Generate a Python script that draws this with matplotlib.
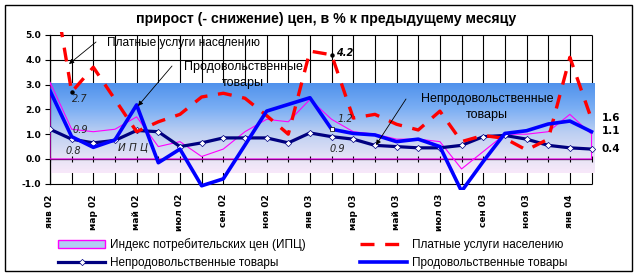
import numpy as np
import matplotlib
matplotlib.use('Agg')
import matplotlib.pyplot as plt
from matplotlib.patches import Rectangle, Patch
from matplotlib.lines import Line2D
from matplotlib.colors import LinearSegmentedColormap

# ---------------- data ----------------
months = ['янв 02', 'фев 02', 'мар 02', 'апр 02', 'май 02', 'июн 02', 'июл 02', 'авг 02',
          'сен 02', 'окт 02', 'ноя 02', 'дек 02', 'янв 03', 'фев 03', 'мар 03', 'апр 03',
          'май 03', 'июн 03', 'июл 03', 'авг 03', 'сен 03', 'окт 03', 'ноя 03', 'дек 03',
          'янв 04', 'фев 04']
tick_labels = months[::2]

cpi = [3.1, 1.2, 1.1, 1.2, 1.7, 0.5, 0.7, 0.1, 0.4, 1.1, 1.6, 1.5,
       2.4, 1.6, 1.1, 1.0, 0.8, 0.8, 0.7, -0.4, 0.3, 1.0, 1.0, 1.1,
       1.8, 1.0]
services = [7.9, 2.7, 3.7, 2.4, 1.1, 1.5, 1.8, 2.5, 2.65, 2.45, 1.75, 1.0,
            4.35, 4.2, 1.65, 1.8, 1.4, 1.17, 1.93, 0.7, 0.95, 0.83, 0.36, 0.8,
            4.1, 1.6]
nonfood = [1.2, 0.8, 0.65, 0.75, 1.15, 1.1, 0.5, 0.65, 0.85, 0.85, 0.85, 0.65,
           1.05, 0.9, 0.8, 0.55, 0.5, 0.45, 0.45, 0.55, 0.9, 0.95, 0.8, 0.55,
           0.45, 0.4]
food = [2.75, 0.9, 0.47, 0.77, 2.18, -0.15, 0.4, -1.08, -0.8, 0.56, 1.93, 2.2,
        2.47, 1.2, 1.03, 0.97, 0.7, 0.8, 0.5, -1.3, -0.1, 1.03, 1.14, 1.41,
        1.53, 1.1]

series_names = ['Индекс потребительских цен (ИПЦ)', 'Непродовольственные товары',
                'Платные услуги населению', 'Продовольственные товары']
title = 'прирост (- снижение) цен, в % к предыдущему месяцу'

# ---------------- figure ----------------
plt.rcParams['font.family'] = ['DejaVu Sans']
W, H = 639, 278
fig = plt.figure(figsize=(W / 100, H / 100), dpi=100)
ax = fig.add_axes([50 / W, 1 - 190 / H, 545 / W, 158 / H])
XMAX, YMIN, YMAX = 25.16, -1.25, 5.12
ax.set_xlim(0, XMAX)
ax.set_ylim(YMIN, YMAX)
x = np.arange(len(months))

def px(xp, yp):
    """pixel position in figure -> data coordinates"""
    return (xp - 50) / 545 * XMAX, (190 - yp) / 158 * (YMAX - YMIN) + YMIN

sans = ['Liberation Sans', 'DejaVu Sans']

# grid (behind gradient)
for v in range(-1, 6):
    ax.hlines(v, 0, len(months) - 1, color='black', lw=0.8, zorder=0.5)
ax.vlines(x, -1, 5, color='black', lw=0.8, zorder=0.5)

# gradient band
cmap = LinearSegmentedColormap.from_list('band', [
    (0.0, (248/255, 232/255, 250/255)),
    (0.15, (232/255, 228/255, 246/255)),
    (0.45, (188/255, 207/255, 242/255)),
    (0.72, (122/255, 174/255, 244/255)),
    (1.0, (80/255, 146/255, 236/255))])
grad = np.linspace(0, 1, 256).reshape(-1, 1)
ax.imshow(grad, cmap=cmap, origin='lower', aspect='auto',
          extent=[0, 25.15, -0.55, 3.05], zorder=1, interpolation='bicubic')

# axes lines
ax.hlines(0, 0, len(months) - 1, color='black', lw=0.9, zorder=2.2)
ax.vlines(x, -0.14, 0.14, color='black', lw=0.8, zorder=2.2)
for s in ['top', 'right', 'bottom']:
    ax.spines[s].set_visible(False)
ax.spines['left'].set_bounds(-1, 5)
ax.spines['left'].set_zorder(2.2)
ax.spines['left'].set_linewidth(0.9)

ax.set_yticks(range(-1, 6))
ax.set_yticklabels([f'{v:.1f}' for v in range(-1, 6)], fontsize=6.5, fontweight='bold')
ax.tick_params(axis='y', length=3.5, width=0.8, pad=3)
ax.set_xticks(x[::2])
ax.set_xticklabels(tick_labels, rotation=90, fontsize=6.5, fontweight='bold')
ax.tick_params(axis='x', length=0, pad=3)

# series
ax.fill_between(x, cpi, 0, facecolor='none', edgecolor='#ff00ff', lw=0.8, zorder=3)
ax.plot(x, nonfood, color='#000080', lw=2.3, marker='D', markersize=3.2,
        markerfacecolor='white', markeredgecolor='#000080', markeredgewidth=0.5, zorder=4)
ax.plot(x, services, color='#ff0000', lw=2.4, linestyle=(0, (4.2, 3.2)), zorder=5)
ax.plot(x, food, color='#0000ff', lw=2.6, zorder=6)
# small point markers on February values
ax.plot(x[[1, 13]], np.array(services)[[1, 13]], 'o', color='black', markersize=2.2, zorder=7)
ax.plot(x[[13]], np.array(food)[[13]], 's', markerfacecolor='white', markeredgecolor='black',
        markersize=2.5, markeredgewidth=0.5, zorder=7)

# value labels
def vlabel(xp, yp, s, **kw):
    xx, yy = px(xp, yp)
    ax.text(xx, yy, s, ha='center', va='center', fontsize=7, zorder=8, **kw)

vlabel(80, 99, '2.7', style='italic', color='#222222')
vlabel(80, 130, '0.9', style='italic', color='#222222')
vlabel(73, 151, '0.8', style='italic', color='#222222')
vlabel(345, 53, '4.2', style='italic', fontweight='bold', color='black')
vlabel(345, 119, '1.2', style='italic', color='#222222')
vlabel(337, 149, '0.9', style='italic', color='#222222')
for yp, s in [(118, '1.6'), (131, '1.1'), (149.5, '0.4')]:
    xx, yy = px(611, yp)
    ax.text(xx, yy, s, ha='center', va='center', fontsize=7.5, fontweight='bold',
            clip_on=False, zorder=8)
xx, yy = px(133, 147)
ax.text(xx, yy, 'И П Ц', ha='center', va='center', fontsize=7.5, style='italic',
        color='#222222', zorder=8)

# annotations with arrows
arrow = dict(arrowstyle='-|>', lw=0.6, color='black', mutation_scale=7, shrinkA=0, shrinkB=0)
ax.annotate('', xy=px(69, 64), xytext=px(96, 42), arrowprops=arrow, zorder=8,
            annotation_clip=False)
ax.annotate('', xy=px(138, 106), xytext=px(172, 66), arrowprops=arrow, zorder=8,
            annotation_clip=False)
ax.annotate('', xy=px(376, 145), xytext=px(406, 99), arrowprops=arrow, zorder=8,
            annotation_clip=False)
xx, yy = px(107, 43)
ax.text(xx, yy, series_names[2], ha='left', va='center', fontsize=8.6, family=sans, zorder=8)
xx, yy = px(243, 75)
ax.text(xx, yy, 'Продовольственные\nтовары', ha='center', va='center', fontsize=9,
        family=sans, linespacing=1.55, zorder=8)
xx, yy = px(487, 107)
ax.text(xx, yy, 'Непродовольственные\nтовары', ha='center', va='center', fontsize=9,
        family=sans, linespacing=1.55, zorder=8)

# title
fig.text(326 / W, 1 - 19 / H, title, ha='center', va='center', fontsize=10.2,
         fontweight='bold', family=sans)

# legend
handles = [
    Patch(facecolor='#b0ccf2', edgecolor='#ff00ff', lw=1),
    Line2D([], [], color='#000080', lw=2.3, marker='D', markersize=3.2,
           markerfacecolor='white', markeredgecolor='#000080', markeredgewidth=0.5),
    Line2D([], [], color='#ff0000', lw=2.4, linestyle=(0, (4.2, 3.2))),
    Line2D([], [], color='#0000ff', lw=2.6),
]
leg = fig.legend(handles, [series_names[0], series_names[1], series_names[2], series_names[3]],
                 ncol=2, loc='upper left', bbox_to_anchor=(58 / W, 1 - 238 / H),
                 frameon=False, handlelength=4.0, handletextpad=0.4, columnspacing=4.6,
                 labelspacing=0.55, borderpad=0, borderaxespad=0,
                 prop={'family': sans, 'size': 8.5})

# outer frame
fig.add_artist(Rectangle((5 / W, 1 - 271 / H), 627 / W, 266 / H, fill=False,
                         lw=1.0, edgecolor='black', transform=fig.transFigure))

fig.savefig('out.png', dpi=100)
